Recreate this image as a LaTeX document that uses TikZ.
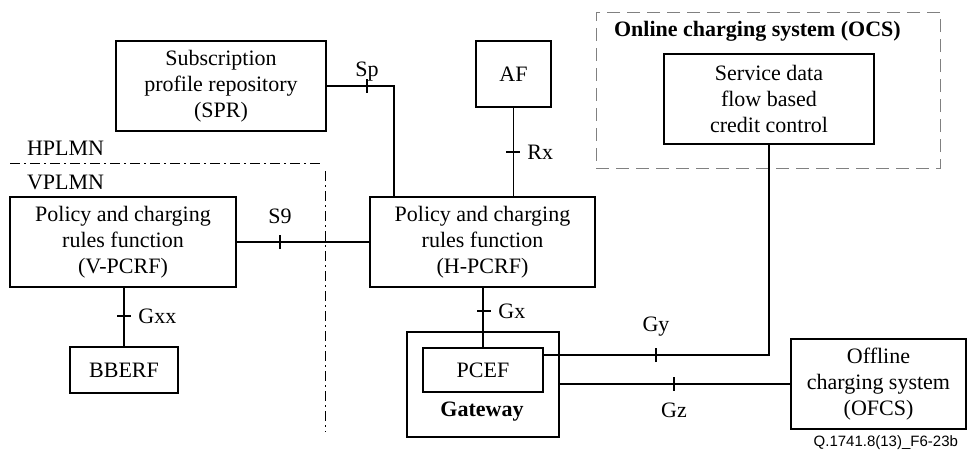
\documentclass[tikz,border=0pt]{standalone}
\usepackage{fontspec}
\setmainfont{Liberation Serif}
\newfontfamily\footfont{Liberation Sans}
\usetikzlibrary{positioning}
\tikzset{
  box/.style={draw, line width=0.8pt, align=center, inner sep=0pt},
  link/.style={line width=0.8pt},
  dashdot/.style={line width=0.5pt, dash pattern=on 5pt off 2pt on 1pt off 2pt},
  ocsframe/.style={draw=gray, line width=0.5pt, dash pattern=on 6.5pt off 3.5pt},
}
\begin{document}
\begin{tikzpicture}[x=0.5pt,y=-0.5pt,font=\fontsize{11}{13}\selectfont]
\useasboundingbox (0,0) rectangle (967,450);
% home network
\node[box, minimum width=105pt, minimum height=45pt] (spr) at (221,86) {Subscription\\profile repository\\(SPR)};
\node[box, minimum width=37.5pt, minimum height=33pt] (af) at (513.5,74) {AF};
\node[ocsframe, minimum width=172pt, minimum height=78pt] (ocs) at (768,90) {};
\node[anchor=west, font=\fontsize{11}{13}\selectfont\bfseries] (ocstitle) at (607,31) {Online charging system (OCS)};
\node[box, minimum width=105pt, minimum height=45pt] (sdf) at (769,99) {Service data\\flow based\\credit control};
\node[box, minimum width=112.5pt, minimum height=45pt] (hpcrf) at (482.5,242) {Policy and charging\\rules function\\(H-PCRF)};
\node[box, minimum width=76pt, minimum height=52.5pt] (gw) at (483,384.5) {};
\node[box, minimum width=60pt, minimum height=22pt] (pcef) at (483,370) {PCEF};
\node[font=\fontsize{11}{13}\selectfont\bfseries] (gwlabel) at (482,412) {Gateway};
\node[box, minimum width=87.5pt, minimum height=45pt] (ofcs) at (878.5,384) {Offline\\charging system\\(OFCS)};
% visited network
\node[box, minimum width=113pt, minimum height=45pt] (vpcrf) at (123,242) {Policy and charging\\rules function\\(V-PCRF)};
\node[box, minimum width=54pt, minimum height=23pt] (bberf) at (124,370) {BBERF};
\node[anchor=west] (hplmn) at (20,148) {HPLMN};
\node[anchor=west] (vplmn) at (20,182) {VPLMN};
\draw[dashdot] (10,163) -- (320,163);
\draw[dashdot] (325,171) -- (325,432);
% reference points
\coordinate (spx) at (394,0);
\draw[link] (spr.east) -| (spx |- hpcrf.north);
\draw[link] (367,79) -- (367,93) node[above=2pt] (splabel) {Sp};
\draw[link] (af.south) -- (af |- hpcrf.north);
\draw[link] (506,152) -- (520,152) node[right=0pt] (rxlabel) {Rx};
\draw[link] (vpcrf.east) -- (hpcrf.west);
\draw[link] (280,249) -- (280,235) node[above=2pt] (s9label) {S9};
\draw[link] (bberf.north) -- (bberf.north |- vpcrf.south);
\draw[link] (117,316) -- (131,316) node[right=0pt] (gxxlabel) {Gxx};
\draw[link] (pcef.north) -- (pcef.north |- hpcrf.south);
\draw[link] (477,311) -- (491,311) node[right=0pt] (gxlabel) {Gx};
\coordinate (gyrow) at (0,355);
\draw[link] (pcef.east |- gyrow) -| (sdf.south);
\draw[link] (656,362) -- (656,348) node[above=2pt] (gylabel) {Gy};
\draw[link] (gw.east |- ofcs.west) -- (ofcs.west);
\draw[link] (674,377) -- (674,391) node[below=2pt] (gzlabel) {Gz};
\node[anchor=east, font=\footfont\fontsize{7.5}{9}\selectfont] (figid) at (965,443) {Q.1741.8(13)\_F6-23b};
\end{tikzpicture}
\end{document}
